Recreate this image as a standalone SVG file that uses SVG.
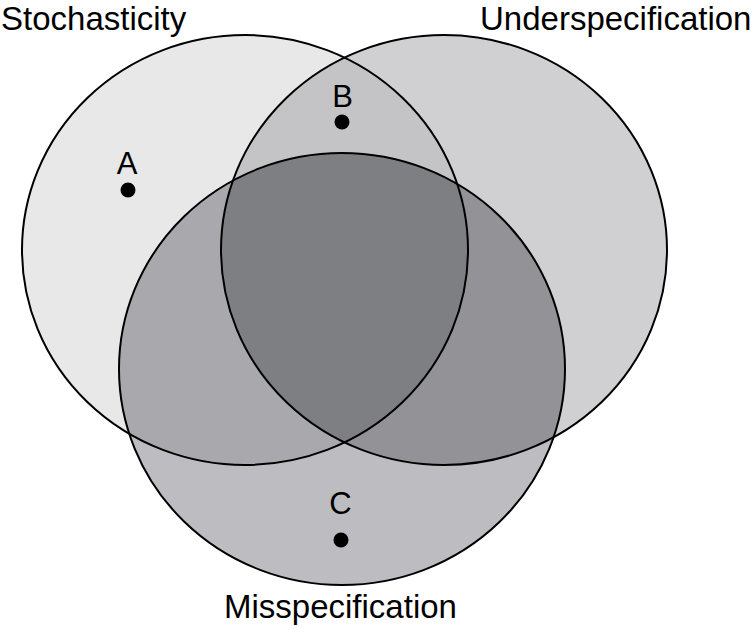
<svg xmlns="http://www.w3.org/2000/svg" width="752" height="628" viewBox="0 0 752 628">
<style>
.lbl{font-family:"Liberation Sans",Arial,Helvetica,sans-serif;fill:#000}
.title{font-size:33px}
.pt{font-size:31px;text-anchor:middle}
.edge{fill:none;stroke:#000;stroke-width:2}
.dot{fill:#000}
</style>
<defs>
<clipPath id="cS"><ellipse cx="245" cy="250" rx="223" ry="215"/></clipPath>
<clipPath id="cU"><ellipse cx="444" cy="250" rx="223" ry="215"/></clipPath>
<clipPath id="cM"><ellipse cx="342" cy="369" rx="223" ry="216"/></clipPath>
</defs>
<rect width="752" height="628" fill="#fff"/>
<g id="fills">
<ellipse cx="245" cy="250" rx="223" ry="215" fill="#e8e8e8"/>
<ellipse cx="444" cy="250" rx="223" ry="215" fill="#d0d0d2"/>
<ellipse cx="342" cy="369" rx="223" ry="216" fill="#bdbdc1"/>
<g clip-path="url(#cS)"><ellipse cx="444" cy="250" rx="223" ry="215" fill="#c4c4c6"/></g>
<g clip-path="url(#cS)"><ellipse cx="342" cy="369" rx="223" ry="216" fill="#a9a9ad"/></g>
<g clip-path="url(#cU)"><ellipse cx="342" cy="369" rx="223" ry="216" fill="#939397"/></g>
<g clip-path="url(#cS)"><g clip-path="url(#cU)"><ellipse cx="342" cy="369" rx="223" ry="216" fill="#7e7f83"/></g></g>
</g>
<g id="stochasticity">
<ellipse class="edge" cx="245" cy="250" rx="223" ry="215"/>
<text class="lbl title" x="1" y="30">Stochasticity</text>
</g>
<g id="underspecification">
<ellipse class="edge" cx="444" cy="250" rx="223" ry="215"/>
<text class="lbl title" x="480" y="30">Underspecification</text>
</g>
<g id="misspecification">
<ellipse class="edge" cx="342" cy="369" rx="223" ry="216"/>
<text class="lbl title" x="224" y="618">Misspecification</text>
</g>
<g id="pointA">
<text class="lbl pt" x="127" y="174">A</text>
<circle class="dot" cx="128" cy="190" r="7.5"/>
</g>
<g id="pointB">
<text class="lbl pt" x="342.5" y="107">B</text>
<circle class="dot" cx="342" cy="122" r="7.5"/>
</g>
<g id="pointC">
<text class="lbl pt" x="340.5" y="514">C</text>
<circle class="dot" cx="341" cy="540" r="7.5"/>
</g>
<g id="connectors"></g>
</svg>
